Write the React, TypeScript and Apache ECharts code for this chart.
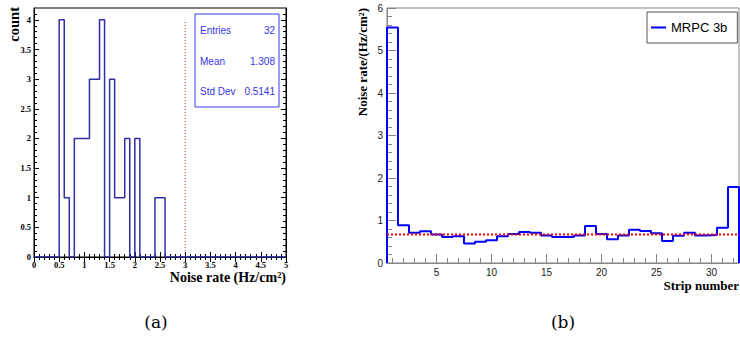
import React, { useEffect, useRef } from "react";
import * as echarts from "echarts";

// ---- Data: panel (a) noise-rate histogram, 50 bins of width 0.1 from 0 to 5
const HIST_START = 0;
const HIST_BIN_WIDTH = 0.1;
const HIST_COUNTS = [
  0, 0, 0, 0, 0, 4, 1, 0, 2, 2,
  2, 3, 3, 4, 0, 3, 1, 1, 2, 0,
  2, 0, 0, 0, 1, 1, 0, 0, 0, 0,
  0, 0, 0, 0, 0, 0, 0, 0, 0, 0,
  0, 0, 0, 0, 0, 0, 0, 0, 0, 0,
];
const CUT_VALUE = 3; // red dotted vertical line
const CUT_TOP = 4;
const STATS = [
  ["Entries", "32"],
  ["Mean", "1.308"],
  ["Std Dev", "0.5141"],
];

// ---- Data: panel (b) noise rate per strip
const STRIPS = [
  1, 2, 3, 4, 5, 6, 7, 8, 9, 10, 11, 12, 13, 14, 15, 16,
  17, 18, 19, 20, 21, 22, 23, 24, 25, 26, 27, 28, 29, 30, 31, 32,
];
const STRIP_RATES = [
  5.54, 0.89, 0.71, 0.75, 0.67, 0.61, 0.63, 0.46, 0.5, 0.535, 0.63, 0.68, 0.73, 0.71, 0.645, 0.61,
  0.61, 0.645, 0.87, 0.68, 0.56, 0.645, 0.78, 0.755, 0.7, 0.52, 0.64, 0.71, 0.645, 0.66, 0.83, 1.79,
];
const MEAN_RATE = 0.67;
const SERIES_NAME = "MRPC 3b";

// ---- Tick labels
const A_X_TICKS = [0, 0.5, 1, 1.5, 2, 2.5, 3, 3.5, 4, 4.5, 5];
const A_Y_TICKS = [0, 0.5, 1, 1.5, 2, 2.5, 3, 3.5, 4];
const A_Y_MINOR = [
  0, 0.1, 0.2, 0.3, 0.4, 0.5, 0.6, 0.7, 0.8, 0.9, 1, 1.1, 1.2, 1.3, 1.4, 1.5, 1.6, 1.7, 1.8, 1.9,
  2, 2.1, 2.2, 2.3, 2.4, 2.5, 2.6, 2.7, 2.8, 2.9, 3, 3.1, 3.2, 3.3, 3.4, 3.5, 3.6, 3.7, 3.8, 3.9,
  4, 4.1,
];
const B_X_TICKS = [5, 10, 15, 20, 25, 30];
const B_X_MINOR = STRIPS;

const SERIF = "'Liberation Serif', 'Times New Roman', serif";
const SANS = "'Liberation Sans', Arial, Helvetica, sans-serif";

export default function App() {
  const ref = useRef<HTMLDivElement>(null);

  useEffect(() => {
    if (!ref.current) return;
    const chart = echarts.init(ref.current, undefined, { renderer: "svg" });

    const nBins = HIST_COUNTS.length;
    const histEnd = +(HIST_START + nBins * HIST_BIN_WIDTH).toFixed(3);
    const histPoints: number[][] = [[HIST_START, 0]];
    HIST_COUNTS.forEach((c, i) => {
      histPoints.push([+(HIST_START + i * HIST_BIN_WIDTH).toFixed(3), c]);
    });
    histPoints.push([histEnd, HIST_COUNTS[nBins - 1]]);
    histPoints.push([histEnd, 0]);

    const xLo = STRIPS[0] - 0.5;
    const xHi = STRIPS[STRIPS.length - 1] + 0.5;
    const stripPoints: number[][] = [[xLo, 0]];
    STRIPS.forEach((s, i) => stripPoints.push([s - 0.5, STRIP_RATES[i]]));
    stripPoints.push([xHi, STRIP_RATES[STRIP_RATES.length - 1]]);
    stripPoints.push([xHi, 0]);

    const black = "#000";
    const gray = "#858585";

    const aXBase = {
      type: "value",
      gridIndex: 0,
      min: 0,
      max: 5,
      interval: 0.5,
      splitLine: { show: false },
      axisLine: { show: true, lineStyle: { color: black, width: 1 } },
      axisTick: { show: true, inside: true, length: 5, lineStyle: { color: black } },
      minorTick: { show: true, splitNumber: 5, length: 3, lineStyle: { color: black } },
    };
    const aYBase = {
      type: "value",
      gridIndex: 0,
      min: 0,
      max: 4.2,
      splitLine: { show: false },
      axisLine: { show: true, lineStyle: { color: black, width: 1 } },
    };

    const option: any = {
      animation: false,
      backgroundColor: "#fff",
      grid: [
        { left: 34, top: 8, width: 252, height: 249, show: true, borderColor: black, borderWidth: 1, backgroundColor: "transparent" },
        { left: 387, top: 8, width: 352, height: 255, show: true, borderColor: gray, borderWidth: 1, backgroundColor: "transparent" },
      ],
      legend: {
        data: [{ name: SERIES_NAME, icon: "rect", itemStyle: { color: "#0000ff" } }],
        left: 647,
        top: 12,
        padding: [8, 10, 8, 4],
        itemWidth: 15,
        itemHeight: 2,
        itemGap: 5,
        borderColor: "#555",
        borderWidth: 1,
        backgroundColor: "#fff",
        textStyle: { fontFamily: SANS, fontSize: 13, color: "#000", lineHeight: 15 },
      },
      xAxis: [
        {
          ...aXBase,
          position: "bottom",
          axisLabel: {
            show: true,
            margin: 3,
            fontFamily: SERIF,
            fontWeight: "bold",
            fontSize: 8.5,
            color: black,
            formatter: (v: number) => (A_X_TICKS.includes(v) ? String(v) : ""),
          },
        },
        { ...aXBase, position: "top", axisLabel: { show: false } },
        {
          type: "value",
          gridIndex: 1,
          position: "bottom",
          min: xLo,
          max: xHi,
          splitLine: { show: false },
          axisLine: { show: true, lineStyle: { color: gray, width: 1 } },
          axisTick: { show: true, inside: true, length: 9, customValues: B_X_TICKS, lineStyle: { color: gray } },
          axisLabel: {
            show: true,
            customValues: B_X_TICKS,
            margin: 4,
            fontFamily: SANS,
            fontSize: 10,
            color: "#222",
          },
        },
        {
          type: "value",
          gridIndex: 1,
          position: "bottom",
          min: xLo,
          max: xHi,
          splitLine: { show: false },
          axisLine: { show: false },
          axisLabel: { show: false },
          axisTick: { show: true, inside: true, length: 5, customValues: B_X_MINOR, lineStyle: { color: gray } },
        },
      ],
      yAxis: [
        {
          ...aYBase,
          position: "left",
          axisTick: { show: true, inside: true, length: 5, customValues: A_Y_TICKS, lineStyle: { color: black } },
          axisLabel: {
            show: true,
            customValues: A_Y_TICKS,
            margin: 3,
            fontFamily: SERIF,
            fontWeight: "bold",
            fontSize: 8.5,
            color: black,
          },
        },
        {
          ...aYBase,
          position: "left",
          axisLine: { show: false },
          axisLabel: { show: false },
          axisTick: { show: true, inside: true, length: 3, customValues: A_Y_MINOR, lineStyle: { color: black } },
        },
        {
          ...aYBase,
          position: "right",
          axisLabel: { show: false },
          axisTick: { show: true, inside: true, length: 5, customValues: A_Y_TICKS, lineStyle: { color: black } },
        },
        {
          ...aYBase,
          position: "right",
          axisLine: { show: false },
          axisLabel: { show: false },
          axisTick: { show: true, inside: true, length: 3, customValues: A_Y_MINOR, lineStyle: { color: black } },
        },
        {
          type: "value",
          gridIndex: 1,
          position: "left",
          min: 0,
          max: 6,
          interval: 1,
          splitLine: { show: false },
          axisLine: { show: true, lineStyle: { color: gray, width: 1 } },
          axisTick: { show: true, inside: true, length: 9, lineStyle: { color: gray } },
          minorTick: { show: true, splitNumber: 5, length: 5, lineStyle: { color: gray } },
          axisLabel: { show: true, margin: 4, fontFamily: SANS, fontSize: 10, color: "#222" },
        },
      ],
      series: [
        {
          type: "line",
          name: "noise",
          xAxisIndex: 0,
          yAxisIndex: 0,
          step: "end",
          symbol: "none",
          data: histPoints,
          lineStyle: { color: "#2e2ea6", width: 1.5 },
          z: 3,
        },
        {
          type: "line",
          name: "cut",
          xAxisIndex: 0,
          yAxisIndex: 0,
          symbol: "none",
          data: [
            [CUT_VALUE, 0],
            [CUT_VALUE, CUT_TOP],
          ],
          lineStyle: { color: "#e02020", width: 1, type: [1, 2] },
          z: 2,
        },
        {
          type: "line",
          name: SERIES_NAME,
          xAxisIndex: 2,
          yAxisIndex: 4,
          step: "end",
          symbol: "none",
          showSymbol: false,
          data: stripPoints,
          color: "#0000ff",
          lineStyle: { color: "#0000ff", width: 2 },
          z: 3,
        },
        {
          type: "line",
          name: "mean",
          xAxisIndex: 2,
          yAxisIndex: 4,
          symbol: "none",
          data: [
            [xLo, MEAN_RATE],
            [xHi, MEAN_RATE],
          ],
          lineStyle: { color: "#ff0000", width: 2, type: [2, 2] },
          z: 4,
        },
      ],
      graphic: [
        {
          type: "rect",
          shape: { x: 195, y: 14, width: 84, height: 93 },
          style: { fill: "#fff", stroke: "#3a3aee", lineWidth: 1 },
          z: 10,
        },
        ...STATS.flatMap(([k, v], i) => [
          {
            type: "text",
            x: 200,
            y: 30.7 + i * 30.5,
            z: 11,
            style: { text: k, fill: "#3535e8", font: `10px ${SANS}`, align: "left", verticalAlign: "middle" },
          },
          {
            type: "text",
            x: 275,
            y: 30.7 + i * 30.5,
            z: 11,
            style: { text: v, fill: "#3535e8", font: `10px ${SANS}`, align: "right", verticalAlign: "middle" },
          },
        ]),
        {
          type: "text",
          x: 14,
          y: 7,
          rotation: Math.PI / 2,
          style: { text: "count", fill: "#000", font: `bold 14.5px ${SERIF}`, align: "right", verticalAlign: "middle" },
        },
        {
          type: "text",
          x: 286,
          y: 277,
          style: { text: "Noise rate (Hz/cm²)", fill: "#000", font: `bold 14px ${SERIF}`, align: "right", verticalAlign: "middle" },
        },
        {
          type: "text",
          x: 362,
          y: 8,
          rotation: Math.PI / 2,
          style: { text: "Noise rate/(Hz/cm²)", fill: "#000", font: `bold 13px ${SERIF}`, align: "right", verticalAlign: "middle" },
        },
        {
          type: "text",
          x: 739,
          y: 285,
          style: { text: "Strip number", fill: "#000", font: `bold 13px ${SERIF}`, align: "right", verticalAlign: "middle" },
        },
        {
          type: "text",
          x: 156,
          y: 322,
          style: { text: "(a)", fill: "#000", font: `17px 'DejaVu Serif', serif`, align: "center", verticalAlign: "middle" },
        },
        {
          type: "text",
          x: 563,
          y: 322,
          style: { text: "(b)", fill: "#000", font: `17px 'DejaVu Serif', serif`, align: "center", verticalAlign: "middle" },
        },
      ],
    };

    chart.setOption(option);
    return () => chart.dispose();
  }, []);

  return (
    <div
      ref={ref}
      style={{ position: "fixed", left: 0, top: 0, width: 740, height: 337, background: "#fff" }}
    />
  );
}
